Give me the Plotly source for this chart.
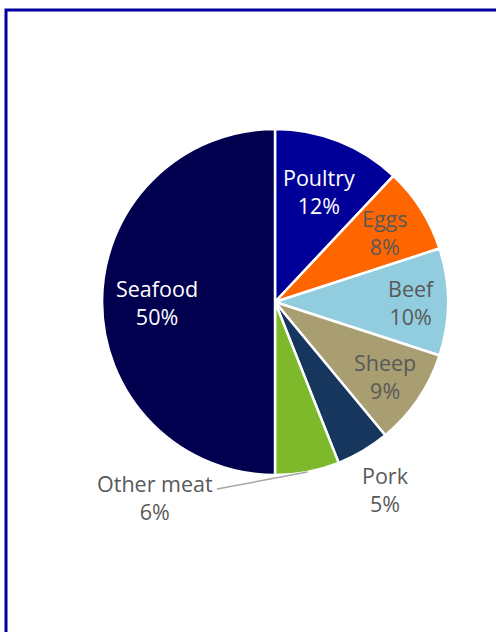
import math
import plotly.graph_objects as go

# Share of consumption by food source (%), clockwise from 12 o'clock
categories = ["Poultry", "Eggs", "Beef", "Sheep", "Pork", "Other meat", "Seafood"]
shares = [12, 8, 10, 9, 5, 6, 50]
colors = ["#000099", "#FF6600", "#92CDDF", "#A89E72", "#17365D", "#7DB92B", "#00004F"]
text_colors = ["#FFFFFF", "#595959", "#595959", "#595959", "#595959", "#595959", "#FFFFFF"]
# radial placement of each label, as a fraction of the pie radius
label_radius = [0.69, 0.75, 0.79, 0.77, 1.26, None, 0.68]

W, H = 496, 632
CX, CY, R = 275, 302, 173  # pie centre and radius in pixels (from top-left)

fig = go.Figure(go.Pie(
    labels=categories,
    values=shares,
    sort=False,
    direction="clockwise",
    rotation=0,
    marker=dict(colors=colors, line=dict(color="#FFFFFF", width=2.5)),
    textinfo="none",
    hoverinfo="label+percent",
    showlegend=False,
    domain=dict(x=[(CX - R) / W, (CX + R) / W],
                y=[(H - CY - R) / H, (H - CY + R) / H]),
))


def to_paper(px, py):
    return px / W, 1 - py / H


total = sum(shares)
annotations = []
shapes = []
cum = 0
font_family = "'Open Sans', Lato, sans-serif"
for name, val, tc, fr in zip(categories, shares, text_colors, label_radius):
    mid = (cum + val / 2) / total * 2 * math.pi
    cum += val
    sx, sy = math.sin(mid), -math.cos(mid)
    label = f"{name}<br>{round(val / total * 100)}%"
    if fr is None:
        # label placed beside the slice with a leader line to its edge
        ex, ey = CX + R * sx, CY + R * sy
        lx, ly = 217, 489
        x0, y0 = to_paper(ex, ey)
        x1, y1 = to_paper(lx, ly)
        shapes.append(dict(type="line", xref="paper", yref="paper",
                           x0=x0, y0=y0, x1=x1, y1=y1,
                           line=dict(color="#A6A6A6", width=1.5)))
        ax, ay = to_paper(155, 497)
    else:
        ax, ay = to_paper(CX + fr * R * sx, CY + fr * R * sy)
    annotations.append(dict(
        x=ax, y=ay, xref="paper", yref="paper", text=label, showarrow=False,
        xanchor="center", yanchor="middle", align="center",
        font=dict(family=font_family, size=21.5, color=tc),
    ))

# outer chart frame
fx0, fy0 = to_paper(6, 10)
shapes.append(dict(type="rect", xref="paper", yref="paper",
                   x0=fx0, y0=fy0, x1=1.05, y1=-0.05,
                   line=dict(color="#00009C", width=3), fillcolor="rgba(0,0,0,0)"))

fig.update_layout(
    width=W, height=H,
    margin=dict(l=0, r=0, t=0, b=0),
    paper_bgcolor="#FFFFFF",
    plot_bgcolor="#FFFFFF",
    annotations=annotations,
    shapes=shapes,
)

fig.write_html("out.html")
